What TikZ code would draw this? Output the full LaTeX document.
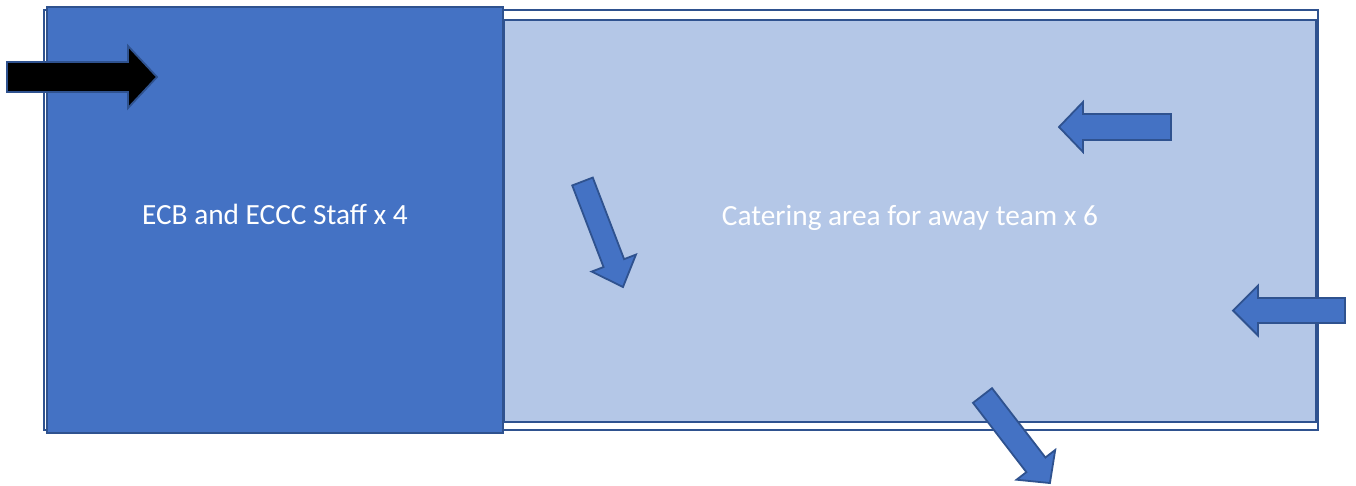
\documentclass[tikz,border=0pt]{standalone}
\usepackage{fontspec}
\setmainfont{Carlito}
\definecolor{darkfill}{HTML}{4472C4}
\definecolor{edgeblue}{HTML}{2F528F}
\definecolor{lightfill}{HTML}{B4C7E7}
\newcommand{\barrow}[8]{%
  \begin{scope}[shift={(#1,#2)},rotate=#3]
    \draw[blockarrowstyle,fill=#8] (0,#5) -- ({#4-#7},#5) -- ({#4-#7},#6) -- (#4,0)
      -- ({#4-#7},-#6) -- ({#4-#7},-#5) -- (0,-#5) -- cycle;
  \end{scope}}
\tikzset{
  blockarrowstyle/.style={draw=edgeblue,line width=1.8pt,line join=miter},
  roombox/.style={draw=edgeblue,line width=2.2pt,inner sep=0pt,text=white,
    font=\fontsize{29.3}{34}\selectfont},
}
\begin{document}
\begin{tikzpicture}[x=1pt,y=-1pt]
\useasboundingbox (0,0) rectangle (1356,485);
% outer frame
\node[roombox,fill=white,minimum width=1274pt,minimum height=420pt] (frame) at (681,220) {};
% catering area
\node[roombox,fill=lightfill,minimum width=812pt,minimum height=402pt] (catering) at (910,221)
  {\raisebox{12pt}{Catering area for away team x 6}};
% staff block
\node[roombox,fill=darkfill,minimum width=456pt,minimum height=426pt] (staff) at (275,220)
  {\raisebox{11pt}{ECB and ECCC Staff x 4}};
% arrows
\barrow{7}{77}{0}{150}{15}{31}{29}{black}
\barrow{1171}{127}{180}{112}{13}{25}{24}{darkfill}
\barrow{1345}{310.5}{180}{112}{12.5}{25}{25}{darkfill}
\barrow{582.5}{181.5}{-69}{113}{11}{23.7}{25.6}{darkfill}
\barrow{982.5}{395.5}{-52.4}{110.5}{12}{24.4}{23}{darkfill}
\end{tikzpicture}
\end{document}
